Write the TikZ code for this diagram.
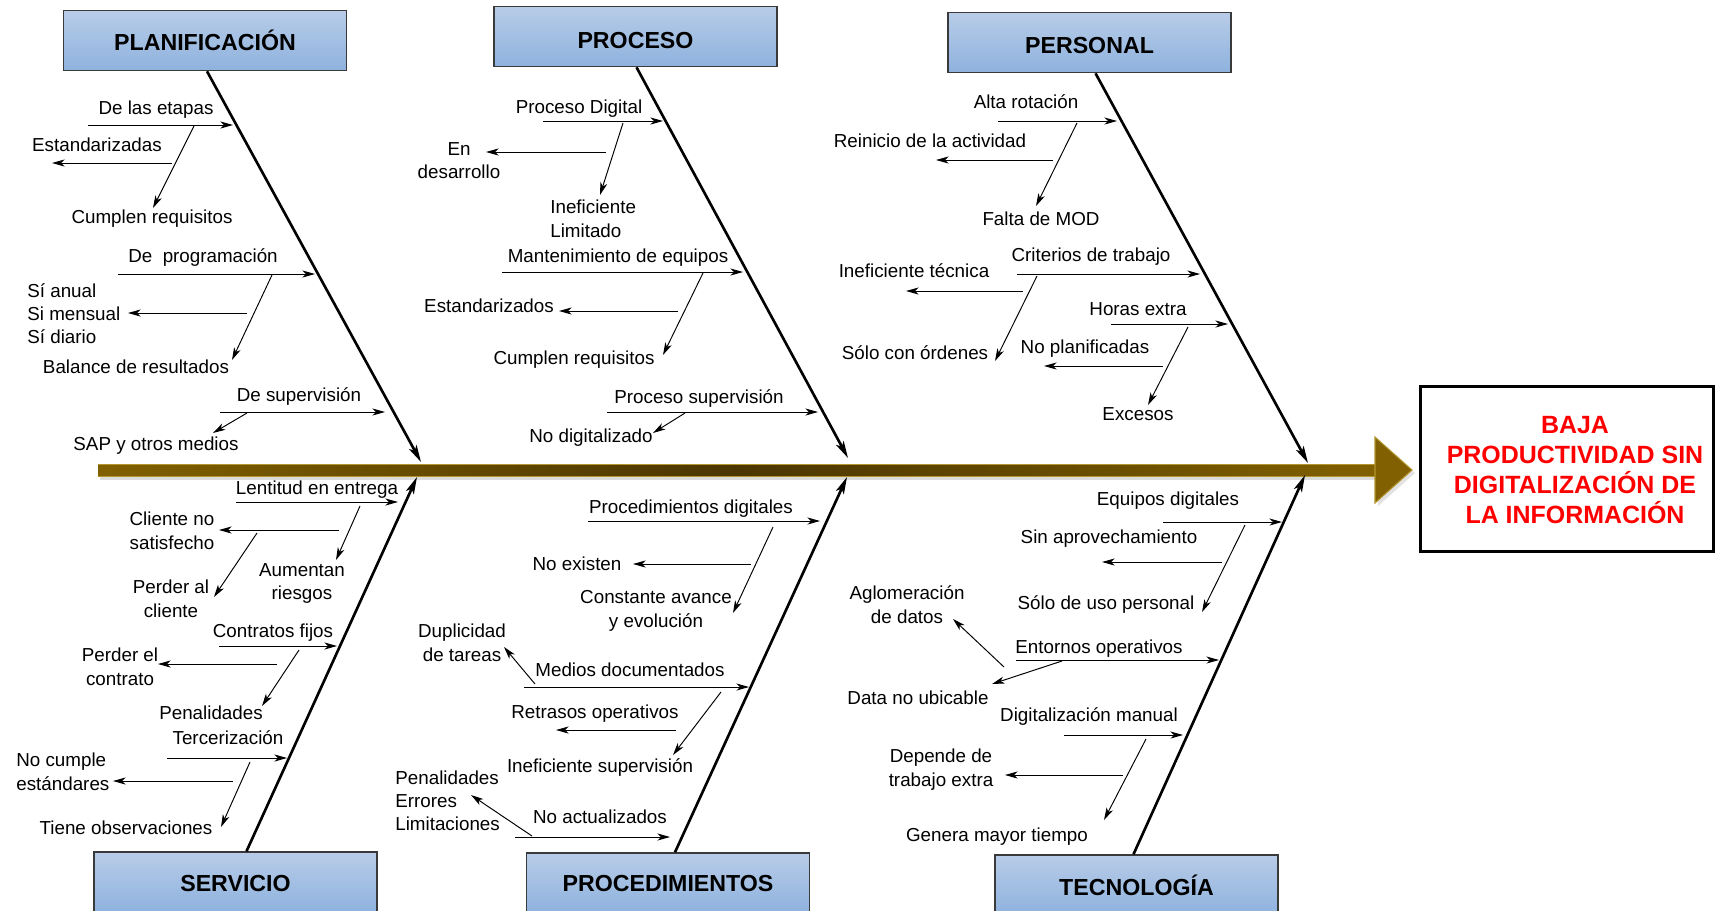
\documentclass[tikz,border=0pt]{standalone}
\usepackage{fontspec}
\setmainfont{Liberation Sans}
\usetikzlibrary{arrows.meta,calc}
\definecolor{boxtop}{HTML}{B8CCE8}
\definecolor{boxbot}{HTML}{8EB2DE}
\definecolor{boxline}{HTML}{3A3A3A}
\definecolor{spinedark}{HTML}{4C3600}
\definecolor{spinegold}{HTML}{806000}
\definecolor{spinelight}{HTML}{B3952E}
\definecolor{effred}{HTML}{FF0000}

% a small cause arrow between two named points
\newcommand\drawtwig[3]{\coordinate (#1a) at (#2); \coordinate (#1b) at (#3); \draw[twig] (#1a) -- (#1b);}

\begin{document}
\begin{tikzpicture}[x=0.02cm,y=-0.02cm,
  lbl/.style={inner sep=0pt, font=\fontsize{10.7}{13.3}\selectfont, text height=10pt, text depth=2.1pt},
  mlbl/.style={inner sep=0pt, font=\fontsize{10.7}{13.3}\selectfont, align=center, yshift=-1pt},
  catbox/.style={draw=boxline, line width=0.9pt, top color=boxtop, bottom color=boxbot,
    minimum width=5.66cm, minimum height=1.2cm, inner sep=0pt,
    font=\bfseries\fontsize{13.2}{15}\selectfont},
  bone/.style={line width=1.5pt, -{Stealth[length=0.34cm,width=0.17cm,inset=0.08cm]}},
  twig/.style={line width=0.55pt, -{Stealth[length=0.25cm,width=0.14cm,inset=0.07cm]}}
]
\useasboundingbox (0,0) rectangle (1716,910);
\clip (0,0) rectangle (1716,910);
\fill[white] (0,0) rectangle (1716,910);

% ---------- spine ----------
\coordinate (spS) at (98,470);
\coordinate (spT) at (1412,470);
\fill[black!45, opacity=0.3] ($(spS)+(2,1)$) rectangle ($(spT)+(-36,10)$);
\fill[black!45, opacity=0.25] ($(spT)+(-34,-30)$) -- ($(spT)+(3,3)$) -- ($(spT)+(-34,36)$) -- cycle;
\shade[left color=spinegold, right color=spinegold, middle color=spinedark]
  ($(spS)+(0,-6)$) rectangle ($(spT)+(-36,6)$);
\draw[spinelight, line width=0.5pt] ($(spS)+(0,-6)$) -- ($(spT)+(-37,-6)$);
\draw[spinelight, line width=0.5pt] ($(spS)+(0,6)$) -- ($(spT)+(-37,6)$);
\fill[spinegold, draw=spinelight, line width=0.6pt]
  ($(spT)+(-37,-33)$) -- (spT) -- ($(spT)+(-37,33)$) -- cycle;

% ---------- effect ----------
\node[draw, line width=1.3pt, minimum width=5.86cm, minimum height=3.3cm, inner sep=0pt] (effect) at (1567,469) {};
\node[font=\bfseries\fontsize{14.2}{17}\selectfont, text=effred, align=center, inner sep=0pt] (efftext) at (1575,470)
  {BAJA\\PRODUCTIVIDAD SIN\\DIGITALIZACIÓN DE\\LA INFORMACIÓN};

% ---------- category boxes ----------
\node[catbox] (plan) at (205,40.5) {PLANIFICACIÓN};
\node[catbox, text height=13.2pt, text depth=0pt] (proc) at (635.5,36.5) {PROCESO};
\node[catbox, text height=12.9pt, text depth=0pt] (pers) at (1089.5,42.5) {PERSONAL};
\node[catbox, text height=10.6pt, text depth=0pt] (serv) at (235.5,882) {SERVICIO};
\node[catbox] (proced) at (668,883) {PROCEDIMIENTOS};
\node[catbox] (tech) at (1136.5,885) {TECNOLOGÍA};

% ---------- main bones ----------
\coordinate (t1) at (421,462);
\coordinate (t2) at (848,458);
\coordinate (t3) at (1308,463);
\coordinate (t4) at (417,477);
\coordinate (t5) at (847,477);
\coordinate (t6) at (1305,475);
\draw[bone] ($(plan.south)+(2,0)$) -- (t1);
\draw[bone] ($(proc.south)+(1,0)$) -- (t2);
\draw[bone] ($(pers.south)+(6,0)$) -- (t3);
\draw[bone] ($(serv.north)+(11,0)$) -- (t4);
\draw[bone] ($(proced.north)+(7,0)$) -- (t5);
\draw[bone] ($(tech.north)+(-3,0)$) -- (t6);

% ---------- PLANIFICACIÓN ----------
\node[lbl] (p1) at (156,108) {De las etapas};
\node[lbl] (p2) at (97,145) {Estandarizadas};
\node[lbl] (p3) at (152,217) {Cumplen requisitos};
\node[lbl] (p4) at (203,256) {De~ programación};
\node[mlbl, align=left, anchor=west] (p5) at (27,312) {Sí anual\\Si mensual\\Sí diario};
\node[lbl] (p6) at (136,367) {Balance de resultados};
\node[lbl] (p7) at (299,395) {De supervisión};
\node[lbl] (p8) at (156,444) {SAP y otros medios};
\drawtwig{pa}{88,125}{233,125}
\drawtwig{pb}{194,126}{153,208}
\drawtwig{pc}{172,163}{52,163}
\drawtwig{pd}{118,274}{315,274}
\drawtwig{pe}{272,275}{232,360}
\drawtwig{pf}{247,313}{128,313}
\drawtwig{pg}{220,412}{385,412}
\drawtwig{ph}{247,413}{213,433}

% ---------- PROCESO ----------
\node[lbl] (q1) at (579,107) {Proceso Digital};
\node[mlbl] (q2) at (459,159) {En\\desarrollo};
\node[mlbl, align=left, anchor=west] (q3) at (550,217) {Ineficiente\\Limitado};
\node[lbl] (q4) at (618,256) {Mantenimiento de equipos};
\node[lbl] (q5) at (489,306) {Estandarizados};
\node[lbl] (q6) at (574,358) {Cumplen requisitos};
\node[lbl] (q7) at (699,397) {Proceso supervisión};
\node[lbl] (q8) at (591,436) {No digitalizado};
\drawtwig{qa}{543,121}{663,121}
\drawtwig{qb}{623,123}{600,195}
\drawtwig{qc}{606,152}{486,152}
\drawtwig{qd}{502,272}{743,272}
\drawtwig{qe}{703,273}{663,355}
\drawtwig{qf}{678,311}{559,311}
\drawtwig{qg}{607,412}{818,412}
\drawtwig{qh}{685,413}{653,433}

% ---------- PERSONAL ----------
\node[lbl] (r1) at (1026,102) {Alta rotación};
\node[lbl] (r2) at (930,141) {Reinicio de la actividad};
\node[lbl] (r3) at (1041,219) {Falta de MOD};
\node[lbl] (r4) at (1091,255) {Criterios de trabajo};
\node[lbl] (r5) at (914,271) {Ineficiente técnica};
\node[lbl] (r6) at (915,353) {Sólo con órdenes};
\node[lbl] (r7) at (1138,309) {Horas extra};
\node[lbl] (r8) at (1085,347) {No planificadas};
\node[lbl] (r9) at (1138,414) {Excesos};
\drawtwig{ra}{998,121}{1117,121}
\drawtwig{rb}{1077,123}{1036,206}
\drawtwig{rc}{1053,160}{936,160}
\drawtwig{rd}{1017,274}{1200,274}
\drawtwig{re}{1037,276}{995,361}
\drawtwig{rf}{1023,291}{906,291}
\drawtwig{rg}{1111,324}{1228,324}
\drawtwig{rh}{1188,327}{1148,405}
\drawtwig{ri}{1163,366}{1044,366}

% ---------- SERVICIO ----------
\node[lbl] (s1) at (317,488) {Lentitud en entrega};
\node[mlbl] (s2) at (302,582) {Aumentan\\riesgos};
\node[mlbl] (s3) at (172,529) {Cliente no\\satisfecho};
\node[mlbl] (s4) at (171,597) {Perder al\\cliente};
\node[lbl] (s5) at (273,631) {Contratos fijos};
\node[mlbl] (s6) at (120,665) {Perder el\\contrato};
\node[lbl] (s7) at (211,713) {Penalidades};
\node[lbl] (s8) at (228,738) {Tercerización};
\node[mlbl, align=left, anchor=west] (s9) at (16,770) {No cumple\\estándares};
\node[lbl] (s10) at (126,828) {Tiene observaciones};
\drawtwig{sa}{236,502}{398,502}
\drawtwig{sb}{360,506}{336,560}
\drawtwig{sc}{339,530}{219,530}
\drawtwig{sd}{257,533}{214,597}
\drawtwig{se}{219,646}{337,646}
\drawtwig{sf}{299,650}{262,706}
\drawtwig{sg}{277,664}{158,664}
\drawtwig{sh}{167,758}{287,758}
\drawtwig{si}{250,762}{221,827}
\drawtwig{sj}{233,781}{113,781}

% ---------- PROCEDIMIENTOS ----------
\node[lbl] (u1) at (691,507) {Procedimientos digitales};
\node[lbl] (u2) at (577,564) {No existen};
\node[mlbl] (u3) at (656,609) {Constante avance\\y evolución};
\node[mlbl] (u4) at (462,641) {Duplicidad\\de tareas};
\node[lbl] (u5) at (630,670) {Medios documentados};
\node[lbl] (u6) at (595,712) {Retrasos operativos};
\node[lbl] (u7) at (600,766) {Ineficiente supervisión};
\node[mlbl, align=left, anchor=west] (u8) at (395,799) {Penalidades\\Errores\\Limitaciones};
\node[lbl] (u9) at (600,817) {No actualizados};
\drawtwig{ua}{588,521}{820,521}
\drawtwig{ub}{773,527}{733,613}
\drawtwig{uc}{751,564}{633,564}
\drawtwig{ud}{524,687}{749,687}
\drawtwig{ue}{535,684}{504,647}
\drawtwig{uf}{721,692}{673,755}
\drawtwig{ug}{676,730}{556,730}
\drawtwig{uh}{515,837}{670,837}
\drawtwig{ui}{532,836}{471,795}

% ---------- TECNOLOGÍA ----------
\node[lbl] (v1) at (1168,499) {Equipos digitales};
\node[lbl] (v2) at (1109,537) {Sin aprovechamiento};
\node[lbl] (v3) at (1106,603) {Sólo de uso personal};
\node[mlbl] (v4) at (907,603) {Aglomeración\\de datos};
\node[lbl] (v5) at (1099,647) {Entornos operativos};
\node[lbl] (v6) at (918,698) {Data no ubicable};
\node[lbl] (v7) at (1089,715) {Digitalización manual};
\node[mlbl] (v8) at (941,768) {Depende de\\trabajo extra};
\node[lbl] (v9) at (997,835) {Genera mayor tiempo};
\drawtwig{va}{1163,522}{1282,522}
\drawtwig{vb}{1245,525}{1202,612}
\drawtwig{vc}{1222,562}{1102,562}
\drawtwig{vd}{1016,660}{1219,660}
\drawtwig{ve}{1062,661}{992,684}
\drawtwig{vf}{1004,667}{953,619}
\drawtwig{vg}{1064,735}{1183,735}
\drawtwig{vh}{1146,739}{1104,820}
\drawtwig{vi}{1123,775}{1005,775}
\end{tikzpicture}
\end{document}
